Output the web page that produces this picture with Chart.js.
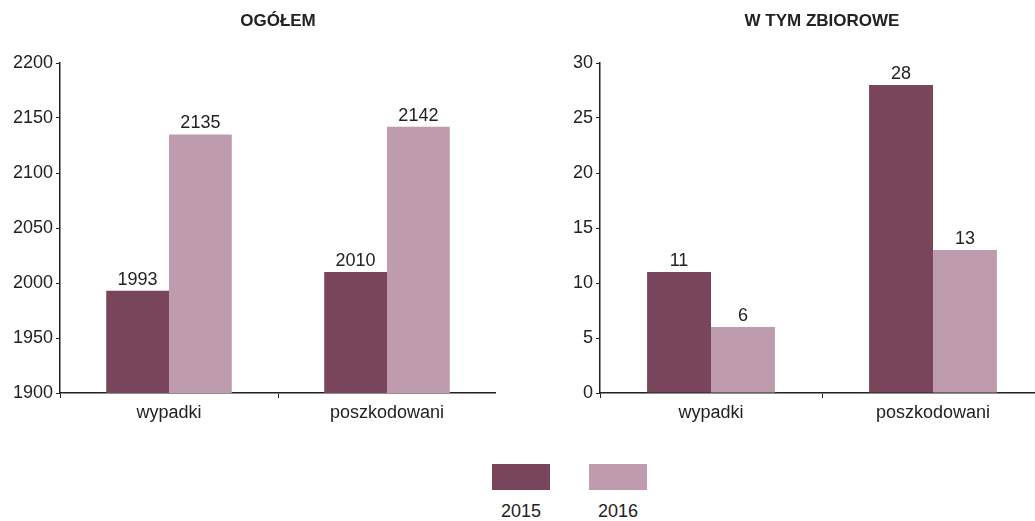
<!DOCTYPE html>
<html>
<head>
<meta charset="utf-8">
<script src="https://cdn.jsdelivr.net/npm/chart.js@4"></script>
<style>
  body { margin: 0; width: 1035px; height: 521px; overflow: hidden; background: #fff; position: relative; font-family: "Liberation Sans", Arial, sans-serif; }
  .box { position: absolute; top: 0; height: 440px; }
  #leftBox { left: 0; width: 496px; }
  #rightBox { left: 540px; width: 504px; }
  #legend { position: absolute; top: 464px; left: 0; width: 1035px; height: 60px; }
  .item { position: absolute; width: 58px; text-align: center; font-size: 18px; color: #222; }
  .swatch { width: 58px; height: 26px; }
  .item span { display: block; margin-top: 11px; }
</style>
</head>
<body>
<div class="box" id="leftBox"><canvas id="leftChart"></canvas></div>
<div class="box" id="rightBox"><canvas id="rightChart"></canvas></div>
<div id="legend"></div>
<script>
const categories = ["wypadki", "poszkodowani"];
const seriesNames = ["2015", "2016"];
const seriesColors = ["#79455A", "#BE9CAD"];

const totalTitle = "OGÓŁEM";
const total2015 = [1993, 2010];
const total2016 = [2135, 2142];

const groupTitle = "W TYM ZBIOROWE";
const group2015 = [11, 28];
const group2016 = [6, 13];

const fontFamily = "'Liberation Sans', Arial, sans-serif";
const textColor = "#222";

// draws the value above each bar and the title over the plot area
const labelsPlugin = {
    id: "valueLabels",
    afterDatasetsDraw(chart, args, opts) {
        const ctx = chart.ctx;
        ctx.save();
        ctx.fillStyle = textColor;
        ctx.textAlign = "center";
        ctx.font = "18px " + fontFamily;
        ctx.textBaseline = "bottom";
        chart.data.datasets.forEach((ds, i) => {
            chart.getDatasetMeta(i).data.forEach((bar, j) => {
                ctx.fillText(ds.data[j], bar.x, bar.y - 2);
            });
        });
        ctx.font = "bold 17px " + fontFamily;
        ctx.textBaseline = "middle";
        const area = chart.chartArea;
        ctx.fillText(opts.text, (area.left + area.right) / 2, 21);
        ctx.restore();
    }
};

function makeChart(id, title, a, b, min, max, step) {
    return new Chart(document.getElementById(id), {
        type: "bar",
        data: {
            labels: categories,
            datasets: [
                { label: seriesNames[0], data: a, backgroundColor: seriesColors[0] },
                { label: seriesNames[1], data: b, backgroundColor: seriesColors[1] }
            ]
        },
        options: {
            responsive: true,
            maintainAspectRatio: false,
            animation: false,
            layout: { padding: { top: 63, right: 0, left: 0, bottom: 0 } },
            categoryPercentage: 0.576,
            barPercentage: 1,
            plugins: {
                legend: { display: false },
                tooltip: { enabled: false },
                valueLabels: { text: title }
            },
            scales: {
                x: {
                    grid: { drawOnChartArea: false, tickLength: 5, color: textColor },
                    border: { color: textColor, width: 1.5 },
                    ticks: { color: textColor, font: { size: 18, family: fontFamily }, padding: 4 },
                    afterFit(scale) { scale.height = 47; }
                },
                y: {
                    min: min, max: max,
                    grid: { drawOnChartArea: false, tickLength: 4, color: textColor },
                    border: { color: textColor, width: 1.5 },
                    ticks: {
                        stepSize: step, color: textColor, padding: 3,
                        font: { size: 18, family: fontFamily },
                        callback: v => String(v)
                    },
                    afterFit(scale) { scale.width = 60; }
                }
            }
        },
        plugins: [labelsPlugin]
    });
}

makeChart("leftChart", totalTitle, total2015, total2016, 1900, 2200, 50);
makeChart("rightChart", groupTitle, group2015, group2016, 0, 30, 5);

const legend = document.getElementById("legend");
const legendX = [492, 589];
seriesNames.forEach((name, i) => {
    const item = document.createElement("div");
    item.className = "item";
    item.style.left = legendX[i] + "px";
    item.innerHTML = '<div class="swatch" style="background:' + seriesColors[i] + '"></div><span>' + name + '</span>';
    legend.appendChild(item);
});
</script>
</body>
</html>
